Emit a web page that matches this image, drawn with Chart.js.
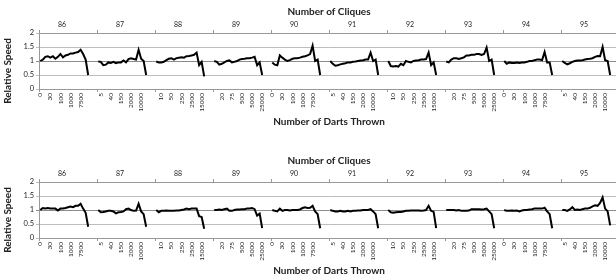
<!DOCTYPE html>
<html>
<head>
<meta charset="utf-8">
<script src="https://cdn.jsdelivr.net/npm/chart.js@4.4.1/dist/chart.umd.min.js"></script>
<style>
  body { margin: 0; background: #fff; }
  .panel { position: absolute; left: 0; width: 616px; height: 132px; overflow: hidden; }
</style>
</head>
<body>
<div class="panel" style="top:0"><canvas id="topChart" width="619" height="132"></canvas></div>
<div class="panel" style="top:149px"><canvas id="bottomChart" width="619" height="132"></canvas></div>
<script>
const cliques = ['86', '87', '88', '89', '90', '91', '92', '93', '94', '95'];
const darts = ['0', '5', '10', '20', '30', '40', '50', '75', '100', '150',
  '250', '500', '1000', '2000', '2500', '5000', '7500', '10000', '15000', '25000'];
const GAP = 3; // empty slots after every clique block

// relative speed, one row per clique, one value per dart count
const topSpeed = [
  [1.0, 1.05, 1.15, 1.17, 1.12, 1.17, 1.08, 1.15, 1.25, 1.13, 1.2, 1.22, 1.27, 1.27, 1.3, 1.32, 1.4, 1.25, 1.05, 0.5],
  [0.98, 0.97, 0.85, 0.87, 0.95, 0.93, 0.97, 0.92, 0.95, 0.95, 1.02, 0.95, 1.07, 1.1, 1.07, 1.05, 1.4, 1.08, 1.0, 0.5],
  [0.98, 0.95, 0.95, 0.97, 1.03, 1.08, 1.1, 1.05, 1.1, 1.12, 1.13, 1.12, 1.17, 1.18, 1.2, 1.22, 1.3, 0.85, 0.97, 0.45],
  [1.0, 0.97, 0.87, 0.9, 0.95, 1.0, 1.02, 0.95, 0.97, 1.0, 1.05, 1.07, 1.08, 1.1, 1.1, 1.12, 1.15, 0.85, 0.95, 0.5],
  [0.95, 0.87, 0.85, 1.2, 1.12, 1.05, 1.0, 1.03, 1.08, 1.1, 1.1, 1.12, 1.15, 1.17, 1.2, 1.25, 1.55, 1.0, 1.05, 0.5],
  [1.0, 0.9, 0.83, 0.85, 0.88, 0.9, 0.92, 0.95, 0.95, 0.97, 0.98, 1.0, 1.02, 1.03, 1.05, 1.05, 1.3, 1.0, 1.05, 0.5],
  [1.0, 0.82, 0.8, 0.82, 0.8, 0.9, 0.85, 1.0, 0.97, 0.95, 1.0, 1.02, 1.03, 1.05, 1.05, 1.07, 1.3, 0.85, 0.95, 0.5],
  [0.98, 0.95, 1.05, 1.1, 1.1, 1.07, 1.1, 1.13, 1.2, 1.2, 1.22, 1.22, 1.25, 1.25, 1.22, 1.25, 1.48, 1.0, 1.05, 0.5],
  [1.0, 0.9, 0.95, 0.93, 0.93, 0.95, 0.93, 0.95, 0.95, 0.97, 1.0, 1.0, 1.03, 1.05, 1.05, 1.03, 1.32, 0.95, 0.95, 0.5],
  [1.0, 0.93, 0.88, 0.92, 0.97, 1.0, 1.02, 1.02, 1.03, 1.05, 1.07, 1.08, 1.1, 1.15, 1.18, 1.17, 1.5, 1.03, 1.0, 0.5]
];
const bottomSpeed = [
  [1.0, 1.07, 1.05, 1.07, 1.05, 1.05, 1.05, 0.98, 1.05, 1.05, 1.07, 1.1, 1.12, 1.1, 1.15, 1.15, 1.22, 1.05, 0.9, 0.4],
  [1.0, 0.92, 0.93, 0.95, 0.97, 0.97, 0.95, 0.88, 0.92, 0.93, 0.95, 1.03, 1.05, 1.0, 0.97, 0.98, 1.22, 0.95, 0.85, 0.4],
  [1.0, 0.92, 0.97, 0.97, 0.98, 0.97, 0.97, 0.97, 0.98, 0.98, 1.0, 1.02, 1.05, 1.03, 1.05, 1.05, 1.05, 0.78, 0.75, 0.33],
  [1.0, 1.0, 1.02, 1.0, 1.03, 1.05, 0.97, 0.97, 1.0, 1.02, 1.02, 1.03, 1.03, 1.05, 1.05, 1.07, 1.03, 0.8, 0.87, 0.35],
  [1.0, 0.97, 0.95, 1.05, 0.97, 1.0, 1.0, 0.98, 1.0, 1.0, 1.0, 1.02, 1.07, 1.1, 1.07, 1.08, 1.15, 0.95, 0.85, 0.35],
  [1.0, 0.97, 0.95, 0.95, 0.97, 0.95, 0.95, 0.97, 0.95, 0.97, 0.97, 0.98, 0.98, 1.0, 1.0, 1.0, 1.03, 0.95, 0.85, 0.35],
  [1.0, 0.92, 0.9, 0.92, 0.93, 0.93, 0.95, 0.97, 0.97, 0.98, 0.98, 0.98, 0.98, 0.97, 0.98, 1.0, 1.15, 0.97, 0.93, 0.35],
  [1.0, 1.0, 1.0, 1.0, 0.98, 1.0, 0.97, 0.97, 0.97, 0.98, 1.03, 1.03, 1.03, 1.03, 1.02, 1.03, 1.05, 0.95, 0.85, 0.35],
  [1.0, 0.97, 0.97, 0.98, 0.97, 0.98, 0.95, 0.98, 1.0, 1.0, 1.02, 1.03, 1.05, 1.05, 1.05, 1.05, 1.08, 0.95, 0.85, 0.35],
  [1.0, 1.0, 0.97, 1.02, 1.1, 1.0, 1.02, 1.0, 1.03, 1.05, 1.05, 1.08, 1.13, 1.17, 1.15, 1.25, 1.45, 1.05, 0.95, 0.45]
];

Chart.defaults.font.family = 'Lato, "Open Sans", sans-serif';
Chart.defaults.color = '#222';

const SLOT = darts.length + GAP;

const labels = [];
cliques.forEach(() => labels.push(...darts, ...Array(GAP).fill('')));

// y axis title sits a bit below the middle of the plot, like the original
const yTitle = {
  id: 'yTitle',
  afterDraw(chart) {
    const ctx = chart.ctx;
    ctx.save();
    ctx.translate(8, 71);
    ctx.rotate(-Math.PI / 2);
    ctx.font = 'bold 10px Lato';
    ctx.fillStyle = '#222';
    ctx.textAlign = 'center';
    ctx.textBaseline = 'middle';
    ctx.fillText('Relative Speed', 0, 0);
    ctx.restore();
  }
};

function makeChart(id, speeds) {
  const values = [];
  speeds.forEach(s => values.push(...s, ...Array(GAP).fill(null)));

  new Chart(document.getElementById(id), {
    type: 'line',
    data: {
      labels: labels,
      datasets: [{
        data: values,
        borderColor: '#000',
        borderWidth: 2,
        pointRadius: 0,
        tension: 0,
        spanGaps: false,
        xAxisID: 'x',
        yAxisID: 'y'
      }]
    },
    options: {
      responsive: false,
      animation: false,
      devicePixelRatio: 1,
      layout: { padding: 0 },
      plugins: { legend: { display: false }, tooltip: { enabled: false } },
      scales: {
        x: {
          type: 'category',
          position: 'bottom',
          offset: true,
          afterFit(s) { s.height = 43; s.paddingLeft = 0; s.paddingRight = 0; },
          grid: {
            offset: true,
            drawOnChartArea: false,
            tickLength: 3,
            color: c => c.index % SLOT === 0 ? '#999' : 'rgba(0,0,0,0)'
          },
          border: { color: '#999' },
          ticks: {
            autoSkip: false,
            minRotation: 90,
            maxRotation: 90,
            padding: 1,
            font: { size: 6.5 },
            callback: function (v, i) { return i % 4 === 0 ? this.getLabelForValue(v) : ''; }
          },
          title: {
            display: true,
            text: 'Number of Darts Thrown',
            font: { size: 10, weight: 'bold' },
            padding: { top: 0, bottom: 4 }
          }
        },
        x2: {
          type: 'linear',
          position: 'top',
          min: 0,
          max: cliques.length,
          afterFit(s) { s.height = 33; s.paddingLeft = 0; s.paddingRight = 0; },
          grid: { drawOnChartArea: false, tickLength: 3, color: '#999' },
          border: { color: '#999' },
          ticks: {
            stepSize: 1,
            autoSkip: false,
            maxRotation: 0,
            padding: 1,
            labelOffset: 23,
            font: { size: 7 },
            callback: v => cliques[v] || ''
          },
          title: {
            display: true,
            text: 'Number of Cliques',
            font: { size: 10, weight: 'bold' },
            padding: { top: 6, bottom: 0 }
          }
        },
        y: {
          min: 0,
          max: 2,
          afterFit(s) { s.width = 39; s.paddingTop = 0; s.paddingBottom = 0; },
          grid: {
            tickLength: 3,
            color: c => c.tick.value === 1 ? '#8c8c8c' : '#bdbdbd'
          },
          border: { color: '#999' },
          ticks: { stepSize: 0.5, padding: 2, font: { size: 7.5 }, callback: v => String(v) }
        }
      }
    },
    plugins: [yTitle]
  });
}

makeChart('topChart', topSpeed);
makeChart('bottomChart', bottomSpeed);
</script>
</body>
</html>
